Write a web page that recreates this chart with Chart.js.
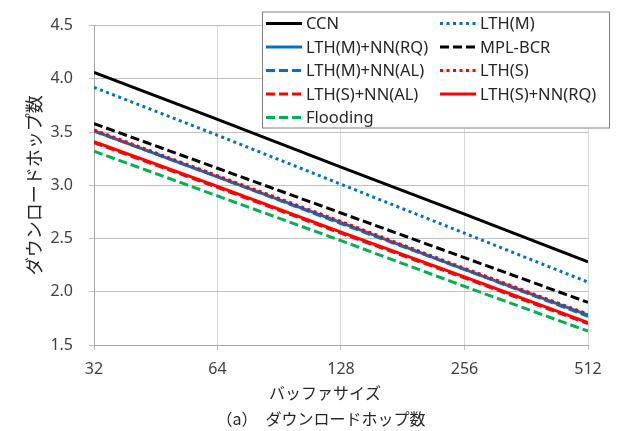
<!DOCTYPE html>
<html>
<head>
<meta charset="utf-8">
<script src="https://cdn.jsdelivr.net/npm/chart.js@4.4.0/dist/chart.umd.min.js"></script>
<style>
  html, body { margin: 0; padding: 0; background: #fff; }
  #wrap { width: 617px; height: 431px; }
</style>
</head>
<body>
<div id="wrap"><canvas id="grafico"></canvas></div>
<script>
// datos
const tamanos = [32, 64, 128, 256, 512];
const yTicks = [1.5, 2.0, 2.5, 3.0, 3.5, 4.0, 4.5];

const ccn        = [4.06, 3.62, 3.17, 2.73, 2.28];
const lthM       = [3.92, 3.47, 3.01, 2.55, 2.09];
const lthMnnRQ   = [3.51, 3.08, 2.65, 2.21, 1.78];
const mplBcr     = [3.58, 3.16, 2.74, 2.32, 1.90];
const lthMnnAL   = [3.51, 3.08, 2.64, 2.21, 1.77];
const lthS       = [3.52, 3.09, 2.66, 2.22, 1.79];
const lthSnnAL   = [3.40, 2.98, 2.55, 2.13, 1.70];
const lthSnnRQ   = [3.41, 2.99, 2.56, 2.14, 1.71];
const flooding   = [3.32, 2.90, 2.48, 2.05, 1.63];

const nombres = ['CCN', 'LTH(M)', 'LTH(M)+NN(RQ)', 'MPL-BCR', 'LTH(M)+NN(AL)',
                 'LTH(S)', 'LTH(S)+NN(AL)', 'LTH(S)+NN(RQ)', 'Flooding'];
const series = [ccn, lthM, lthMnnRQ, mplBcr, lthMnnAL, lthS, lthSnnAL, lthSnnRQ, flooding];

const tituloX = 'バッファサイズ';
const tituloY = 'ダウンロードホップ数';
const leyenda = '（a）　ダウンロードホップ数';

const AZUL = '#0070C0', ROJO = '#FF0000', VERDE = '#00B050', NEGRO = '#000000';
const SOLIDO = [], GUION = [9, 4], PUNTO = [3, 3.5];
const estilos = [
    { color: NEGRO, dash: SOLIDO },
    { color: AZUL,  dash: PUNTO },
    { color: AZUL,  dash: SOLIDO },
    { color: NEGRO, dash: GUION },
    { color: AZUL,  dash: GUION },
    { color: ROJO,  dash: PUNTO },
    { color: ROJO,  dash: GUION },
    { color: ROJO,  dash: SOLIDO },
    { color: VERDE, dash: GUION }
];

const fuente = "'Noto Sans', 'Noto Sans CJK JP', sans-serif";
const fuenteJP = "'Noto Sans CJK JP', 'Noto Sans', sans-serif";

const datasets = series.map((s, i) => ({
    label: nombres[i],
    data: s.map((v, j) => ({ x: tamanos[j], y: v })),
    borderColor: estilos[i].color,
    backgroundColor: estilos[i].color,
    borderDash: estilos[i].dash,
    borderWidth: 3,
    pointRadius: 0,
    tension: 0,
    fill: false,
    order: series.length - i  // las ultimas series quedan encima
}));

// leyenda en recuadro de dos columnas + textos inferiores
const pluginLeyenda = {
    id: 'leyendaCaja',
    afterDatasetsDraw(chart) {
        const ctx = chart.ctx;
        const caja = { x: 262, y: 11.5, w: 348, h: 117 };
        ctx.save();
        ctx.fillStyle = '#ffffff';
        ctx.fillRect(caja.x, caja.y, caja.w, caja.h);
        ctx.strokeStyle = '#7F7F7F';
        ctx.lineWidth = 1;
        ctx.strokeRect(caja.x + 0.5, caja.y + 0.5, caja.w - 1, caja.h - 1);
        ctx.font = '16.5px ' + fuente;
        ctx.textBaseline = 'middle';
        ctx.textAlign = 'left';
        chart.data.datasets.forEach((ds, i) => {
            const fila = Math.floor(i / 2), col = i % 2;
            const y = 23.5 + fila * 23.5;
            const x0 = col === 0 ? 266 : 440;
            ctx.beginPath();
            ctx.setLineDash(ds.borderDash);
            ctx.strokeStyle = ds.borderColor;
            ctx.lineWidth = 3;
            ctx.moveTo(x0, y);
            ctx.lineTo(x0 + 36, y);
            ctx.stroke();
            ctx.setLineDash([]);
            ctx.fillStyle = '#262626';
            ctx.fillText(ds.label, x0 + 40, y + 1);
        });
        ctx.restore();
    },
    afterDraw(chart) {
        const ctx = chart.ctx;
        ctx.save();
        ctx.fillStyle = '#262626';
        ctx.textAlign = 'center';
        ctx.textBaseline = 'middle';
        ctx.font = '16px ' + fuenteJP;
        ctx.fillText(tituloX, 325, 393);
        ctx.fillText(leyenda, 321, 419);
        ctx.restore();
    }
};

new Chart(document.getElementById('grafico').getContext('2d'), {
    type: 'line',
    data: { datasets },
    plugins: [pluginLeyenda],
    options: {
        responsive: true,
        maintainAspectRatio: false,
        animation: false,
        layout: { padding: { top: 22, right: 29, left: 12, bottom: 0 } },
        plugins: {
            legend: { display: false },
            tooltip: { enabled: false },
            title: { display: false }
        },
        scales: {
            x: {
                type: 'logarithmic',
                min: 32,
                max: 512,
                afterBuildTicks: (scale) => {
                    scale.ticks = tamanos.map(v => ({ value: v }));
                },
                afterFit: (scale) => { scale.height = 86; },
                grid: {
                    color: '#D9D9D9',
                    lineWidth: 1,
                    tickLength: 5,
                    tickColor: '#BFBFBF'
                },
                border: { color: '#A6A6A6' },
                ticks: {
                    autoSkip: false,
                    maxRotation: 0,
                    padding: 10,
                    color: '#404040',
                    font: { family: fuente, size: 16 },
                    callback: (v) => String(v)
                }
            },
            y: {
                min: 1.5,
                max: 4.5,
                afterBuildTicks: (scale) => {
                    scale.ticks = yTicks.map(v => ({ value: v }));
                },
                afterFit: (scale) => { scale.width = 82; },
                grid: {
                    color: '#BFBFBF',
                    lineWidth: 1,
                    tickLength: 5,
                    tickColor: '#BFBFBF'
                },
                border: { color: '#A6A6A6' },
                ticks: {
                    padding: 16,
                    color: '#404040',
                    font: { family: fuente, size: 16 },
                    callback: (v) => v.toFixed(1)
                },
                title: {
                    display: true,
                    text: tituloY,
                    color: '#262626',
                    font: { family: fuenteJP, size: 18 },
                    padding: { top: 11, bottom: 0 }
                }
            }
        }
    }
});
</script>
</body>
</html>
